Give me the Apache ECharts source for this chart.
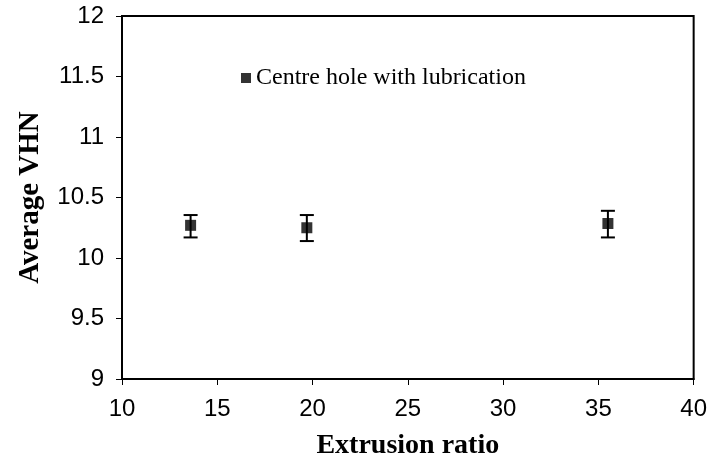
<!DOCTYPE html>
<html>
<head>
<meta charset="utf-8">
<script src="https://cdn.jsdelivr.net/npm/echarts@6/dist/echarts.min.js"></script>
<style>html,body{margin:0;padding:0;background:#fff}#c{width:710px;height:465px}</style>
</head>
<body>
<div id="c"></div>
<script>
const seriesName = "Centre hole with lubrication";
const xValues = [13.6, 19.7, 35.5];
const yValues = [10.27, 10.25, 10.285];
const yLow = [10.17, 10.14, 10.17];
const yHigh = [10.355, 10.355, 10.39];
const xTicks = [10, 15, 20, 25, 30, 35, 40];
const yTicks = [9, 9.5, 10, 10.5, 11, 11.5, 12];

const chart = echarts.init(document.getElementById('c'), null, {renderer: 'canvas'});
const points = xValues.map((x, i) => [x, yValues[i]]);
const bars = xValues.map((x, i) => [x, yLow[i], yHigh[i]]);

chart.setOption({
  animation: false,
  backgroundColor: '#fff',
  grid: {left: 122, right: 14, top: 16, bottom: 85, show: true, borderColor: '#000', borderWidth: 2, backgroundColor: 'transparent'},
  legend: {
    left: 236, top: 61,
    itemWidth: 10, itemHeight: 10,
    data: [{name: seriesName, icon: 'rect'}],
    textStyle: {fontFamily: 'Liberation Serif', fontSize: 24, color: '#000'}
  },
  xAxis: {
    type: 'value', min: xTicks[0], max: xTicks[xTicks.length - 1], interval: 5,
    name: 'Extrusion ratio', nameLocation: 'middle', nameGap: 53,
    nameTextStyle: {fontFamily: 'Liberation Serif', fontWeight: 'bold', fontSize: 28, color: '#000'},
    axisLine: {show: true, lineStyle: {color: '#000', width: 2}},
    axisTick: {show: true, inside: false, length: 6, lineStyle: {color: '#000', width: 1}},
    axisLabel: {margin: 18, fontFamily: 'Liberation Sans', fontSize: 24, color: '#000'},
    splitLine: {show: false}
  },
  yAxis: {
    type: 'value', min: yTicks[0], max: yTicks[yTicks.length - 1], interval: 0.5,
    name: 'Average VHN', nameLocation: 'middle', nameGap: 77, nameRotate: 90,
    nameTextStyle: {fontFamily: 'Liberation Serif', fontWeight: 'bold', fontSize: 29, color: '#000'},
    axisLine: {show: true, lineStyle: {color: '#000', width: 2}},
    axisTick: {show: true, inside: false, length: 6, lineStyle: {color: '#000', width: 1}},
    axisLabel: {margin: 18, fontFamily: 'Liberation Sans', fontSize: 24, color: '#000'},
    splitLine: {show: false}
  },
  series: [
    {
      type: 'custom',
      name: 'err',
      data: bars,
      silent: true,
      renderItem: function (params, api) {
        const x = api.value(0);
        const lo = api.coord([x, api.value(1)]);
        const hi = api.coord([x, api.value(2)]);
        const hw = 7;
        const st = {stroke: '#000', lineWidth: 2};
        return {
          type: 'group',
          children: [
            {type: 'line', shape: {x1: lo[0], y1: lo[1], x2: hi[0], y2: hi[1]}, style: st},
            {type: 'line', shape: {x1: lo[0] - hw, y1: lo[1], x2: lo[0] + hw, y2: lo[1]}, style: st},
            {type: 'line', shape: {x1: hi[0] - hw, y1: hi[1], x2: hi[0] + hw, y2: hi[1]}, style: st}
          ]
        };
      },
      z: 2
    },
    {
      type: 'scatter',
      name: seriesName,
      data: points,
      symbol: 'rect',
      symbolSize: 11,
      itemStyle: {color: '#000'},
      z: 3
    }
  ]
});
</script>
</body>
</html>
